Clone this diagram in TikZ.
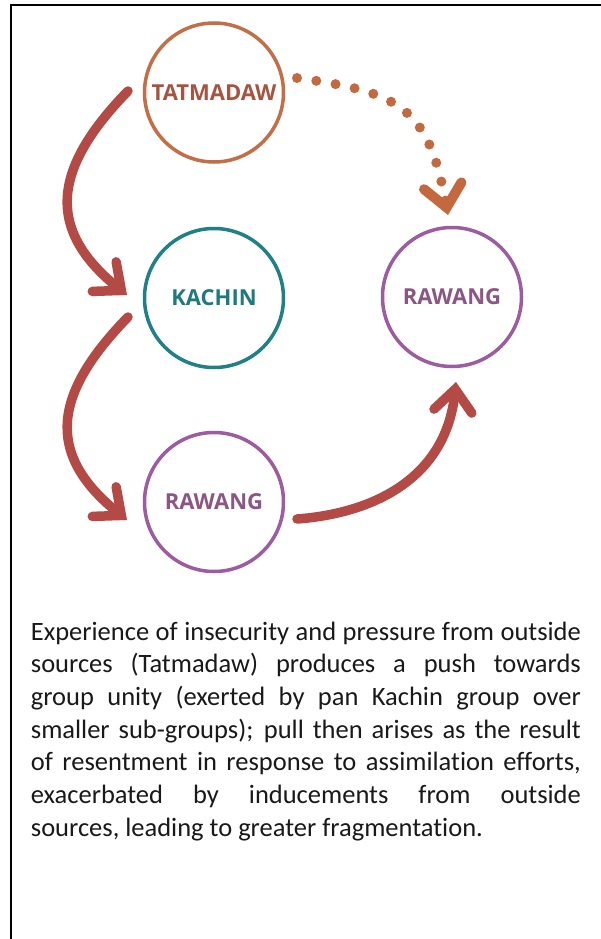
\documentclass[tikz,border=0pt]{standalone}
\usepackage{fontspec}
\setmainfont{Carlito}[Ligatures=NoCommon]
\newfontfamily\circfont{Open Sans}
\usetikzlibrary{arrows.meta}
\definecolor{tatc}{HTML}{C46E48}
\definecolor{tatt}{HTML}{A65440}
\definecolor{dotc}{HTML}{C4683F}
\definecolor{kac}{HTML}{1F8088}
\definecolor{kat}{HTML}{1F7A7C}
\definecolor{rawc}{HTML}{9C5C9F}
\definecolor{rawt}{HTML}{8B5683}
\definecolor{arr}{HTML}{B44A45}
\begin{document}
\begin{tikzpicture}[x=1pt,y=-1pt,
  grp/.style={circle, draw, line width=3.5pt, minimum size=139pt, inner sep=0pt,
    font=\circfont\bfseries\fontsize{22}{22}\selectfont},
  barb/.style={-{Straight Barb[length=22pt,width=38pt,line join=miter,line cap=round]}},
  push/.style={draw=arr, line width=9.5pt, line cap=round, barb},
  dotpath/.style={draw=dotc, line width=10pt, line cap=round, dash pattern=on 0pt off 19.5pt, barb},
  frame/.style={draw=black, line width=2pt}
]
\useasboundingbox (0,0) rectangle (601,939);
\fill[white] (0,0) rectangle (601,939);
\draw[frame] (11,945) -- (11,5) -- (610,5);

\node[grp, draw=tatc, text=tatt] (T) at (214,92.5) {TATMADAW};
\node[grp, draw=kac, text=kat] (K) at (214,298) {KACHIN};
\node[grp, draw=rawc, text=rawt] (R2) at (452,297) {RAWANG};
\node[grp, draw=rawc, text=rawt] (R1) at (214,502) {RAWANG};

\draw[push] ([shift={(-86,-1.5)}]T.center) .. controls +(-74,76) and +(-83,-67) .. ([shift={(-87,-3)}]K.center);
\draw[push] ([shift={(-86,19)}]K.center) .. controls +(-74,76) and +(-83,-67) .. ([shift={(-87,18)}]R1.center);
\draw[push] ([shift={(83,17)}]R1.center) .. controls +(80,-6) and +(-10,94) .. ([shift={(4,85)}]R2.center);
\draw[dotpath] ([shift={(83,-14.5)}]T.center) .. controls +(100,14) and +(-20,-110) .. ([shift={(-4,-82)}]R2.center);

\node[anchor=base west, inner sep=0pt, text width=550pt, align=justify,
  font=\fontsize{26.5}{32.7}\selectfont, text={black!90}] (txt) at (30.7,640)
  {Experience of insecurity and pressure from outside\linebreak
   sources (Tatmadaw) produces a push towards\linebreak
   group unity (exerted by pan Kachin group over\linebreak
   smaller sub-groups); pull then arises as the result\linebreak
   of resentment in response to assimilation efforts,\linebreak
   exacerbated by inducements from outside\linebreak
   sources, leading to greater fragmentation.};
\end{tikzpicture}
\end{document}
